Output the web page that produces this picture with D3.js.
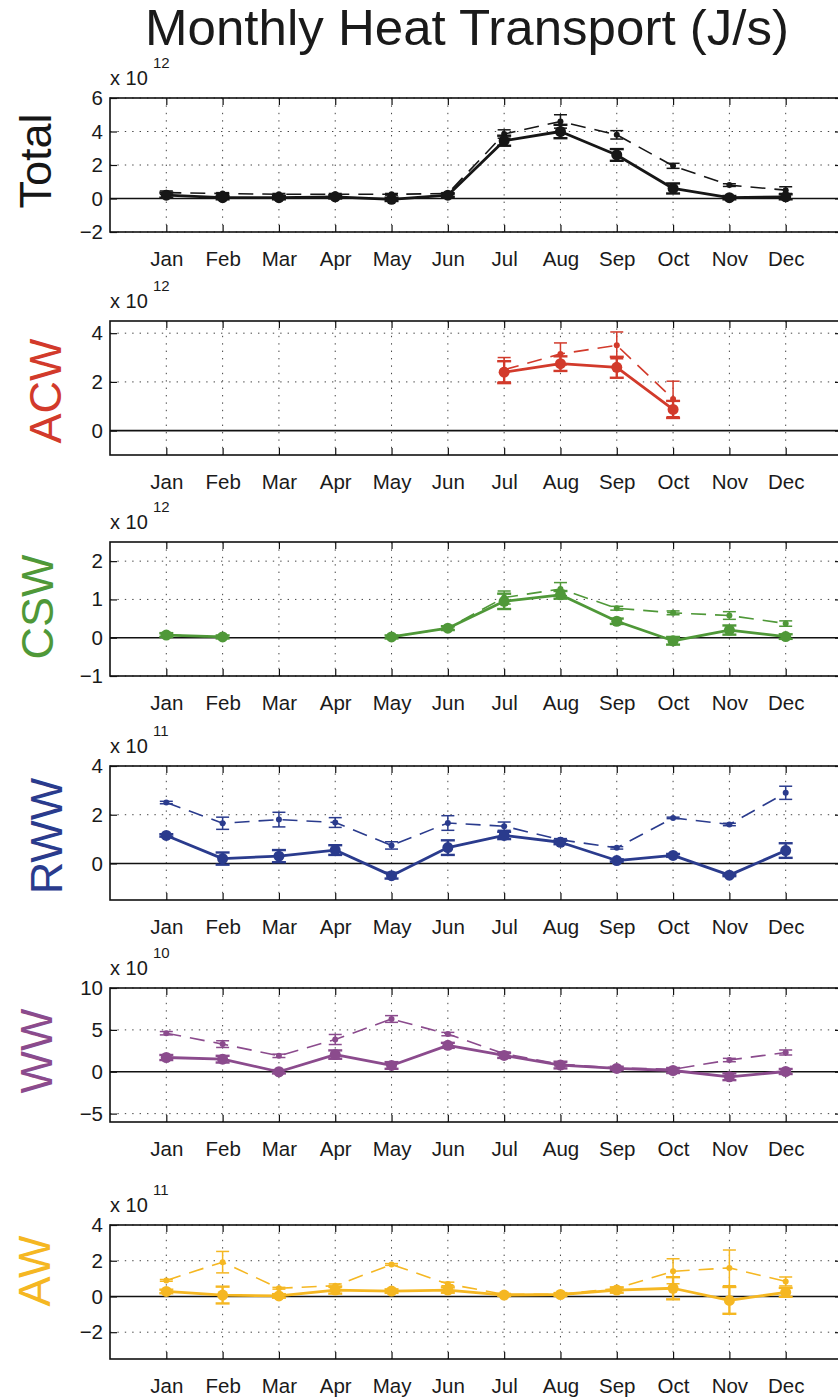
<!DOCTYPE html>
<html><head><meta charset="utf-8">
<script src="https://cdn.jsdelivr.net/npm/d3@7"></script>
<style>
body{margin:0;background:#fff}
svg{display:block}
text{font-family:"Liberation Sans",Arial,Helvetica,sans-serif}
</style>
</head><body>
<svg id="c" width="838" height="1398"></svg>
<script>
// ---------------- DATA ----------------
const months = ["Jan","Feb","Mar","Apr","May","Jun","Jul","Aug","Sep","Oct","Nov","Dec"];
const chartTitle = "Monthly Heat Transport (J/s)";
const panelNames = ["Total","ACW","CSW","RWW","WW","AW"];
const panelExponents = ["12","12","12","11","10","11"];
const panelYDomains = [[-2,6],[-1,4.5],[-1,2.5],[-1.5,4],[-6,10],[-3.5,4]];
const panelYTicks = [[-2,0,2,4,6],[0,2,4],[-1,0,1,2],[0,2,4],[-5,0,5,10],[-2,0,2,4]];

// Total (x 10^12)
const totalSolid     = [0.2,0.05,0.05,0.1,-0.05,0.2,3.45,4.0,2.6,0.6,0.05,0.1];
const totalSolidErr  = [0.15,0.1,0.1,0.1,0.1,0.1,0.3,0.4,0.35,0.3,0.1,0.15];
const totalDashed    = [0.35,0.3,0.25,0.25,0.25,0.3,3.85,4.6,3.8,1.95,0.8,0.5];
const totalDashedErr = [0.1,0.05,0.05,0.05,0.05,0.05,0.25,0.4,0.25,0.15,0.08,0.2];
// ACW (x 10^12)
const acwSolid     = [null,null,null,null,null,null,2.4,2.75,2.6,0.87,null,null];
const acwSolidErr  = [null,null,null,null,null,null,0.45,0.3,0.43,0.35,null,null];
const acwDashed    = [null,null,null,null,null,null,2.5,3.15,3.5,1.3,null,null];
const acwDashedErr = [null,null,null,null,null,null,0.5,0.45,0.55,0.73,null,null];
// CSW (x 10^12)
const cswSolid     = [0.07,0.02,null,null,0.02,0.25,0.95,1.12,0.43,-0.08,0.2,0.03];
const cswSolidErr  = [0.05,0.04,null,null,0.04,0.05,0.2,0.1,0.07,0.1,0.12,0.06];
const cswDashed    = [0.07,0.02,null,null,0.02,0.25,1.05,1.27,0.77,0.65,0.58,0.37];
const cswDashedErr = [0.03,0.03,null,null,0.03,0.03,0.17,0.17,0.05,0.05,0.1,0.07];
// RWW (x 10^11)
const rwwSolid     = [1.15,0.2,0.3,0.55,-0.5,0.65,1.15,0.87,0.12,0.33,-0.48,0.53];
const rwwSolidErr  = [0.05,0.25,0.25,0.2,0.12,0.3,0.15,0.08,0.05,0.06,0.04,0.3];
const rwwDashed    = [2.5,1.65,1.8,1.68,0.74,1.66,1.53,0.97,0.64,1.87,1.6,2.9];
const rwwDashedErr = [0.05,0.25,0.3,0.2,0.15,0.3,0.17,0.05,0.05,0.03,0.05,0.27];
// WW (x 10^10)
const wwSolid     = [1.7,1.5,0.0,2.05,0.75,3.15,1.95,0.8,0.4,0.15,-0.6,0.03];
const wwSolidErr  = [0.3,0.4,0.2,0.5,0.4,0.3,0.3,0.4,0.2,0.3,0.4,0.3];
const wwDashed    = [4.6,3.3,1.9,3.85,6.3,4.5,2.15,0.9,0.45,0.3,1.4,2.3];
const wwDashedErr = [0.2,0.4,0.2,0.6,0.4,0.2,0.2,0.2,0.1,0.1,0.2,0.3];
// AW (x 10^11)
const awSolid     = [0.28,0.08,0.03,0.36,0.3,0.36,0.08,0.11,0.36,0.46,-0.22,0.23];
const awSolidErr  = [0.1,0.47,0.1,0.2,0.1,0.15,0.05,0.08,0.15,0.62,0.75,0.25];
const awDashed    = [0.9,1.92,0.46,0.6,1.79,0.7,0.12,0.12,0.45,1.41,1.6,0.84];
const awDashedErr = [0.05,0.6,0.05,0.1,0.05,0.1,0.05,0.05,0.05,0.7,1.0,0.25];

// ---------------- LAYOUT / STYLE ----------------
const panelColors = ["#161616","#d23a2b","#4f9838","#2a3b8d","#8b4b8d","#f5b722"];
const panelTops = [98,321,542,766,988,1225];
const panelHeight = 134;
const labelPos = [[35,161],[45,391],[37,607],[46,836],[36,1051],[34,1271]];
const plotLeft = 110, plotRight = 842;

const seriesSolid = [totalSolid,acwSolid,cswSolid,rwwSolid,wwSolid,awSolid];
const seriesSolidErr = [totalSolidErr,acwSolidErr,cswSolidErr,rwwSolidErr,wwSolidErr,awSolidErr];
const seriesDashed = [totalDashed,acwDashed,cswDashed,rwwDashed,wwDashed,awDashed];
const seriesDashedErr = [totalDashedErr,acwDashedErr,cswDashedErr,rwwDashedErr,wwDashedErr,awDashedErr];

const svg = d3.select("#c");
const x = d3.scaleLinear().domain([0,13]).range([plotLeft,plotRight]);
const fmt = d => d < 0 ? "\u2212" + Math.abs(d) : String(d);

svg.append("text").attr("x",467).attr("y",45).attr("text-anchor","middle")
  .attr("font-size",50).attr("fill","#1a1a1a")
  .attr("textLength",644).attr("lengthAdjust","spacingAndGlyphs").text(chartTitle);

panelNames.forEach((name,i) => {
  const top = panelTops[i], bottom = top + panelHeight;
  const y = d3.scaleLinear().domain(panelYDomains[i]).range([bottom, top]);
  const color = panelColors[i];
  const g = svg.append("g");

  // grid
  g.append("g").selectAll("line").data(d3.range(1,13)).join("line")
    .attr("x1",d=>x(d)).attr("x2",d=>x(d)).attr("y1",top).attr("y2",bottom)
    .attr("stroke","#444").attr("stroke-width",1).attr("stroke-dasharray","1.4,6");
  g.append("g").selectAll("line").data(panelYTicks[i].filter(t=>t!==0)).join("line")
    .attr("x1",plotLeft).attr("x2",plotRight).attr("y1",d=>y(d)).attr("y2",d=>y(d))
    .attr("stroke","#444").attr("stroke-width",1).attr("stroke-dasharray","1.4,6");

  // zero line
  g.append("line").attr("x1",plotLeft).attr("x2",plotRight).attr("y1",y(0)).attr("y2",y(0))
    .attr("stroke","#111").attr("stroke-width",1.6);

  // axes (inward ticks)
  const ax = g.append("g").attr("transform",`translate(0,${bottom})`)
    .call(d3.axisBottom(x).tickValues(d3.range(1,13)).tickSize(-7).tickPadding(19)
      .tickFormat(d=>months[d-1]));
  const axTop = g.append("g").attr("transform",`translate(0,${top})`)
    .call(d3.axisTop(x).tickValues(d3.range(1,13)).tickSize(-7).tickFormat(""));
  const ay = g.append("g").attr("transform",`translate(${plotLeft},0)`)
    .call(d3.axisLeft(y).tickValues(panelYTicks[i]).tickSize(-7).tickPadding(7).tickFormat(fmt));
  const ayR = g.append("g").attr("transform",`translate(${plotRight},0)`)
    .call(d3.axisRight(y).tickValues(panelYTicks[i]).tickSize(-7).tickFormat(""));
  [ax,axTop,ay,ayR].forEach(a=>{
    a.select(".domain").remove();
    a.selectAll("line").attr("stroke","#111").attr("stroke-width",1.2);
    a.selectAll("text").attr("font-size",20.5).attr("fill","#1a1a1a")
      .attr("font-family","'Liberation Sans',Arial,sans-serif");
  });

  // exponent label
  const ex = g.append("g");
  ex.append("text").attr("x",plotLeft).attr("y",top-13).attr("font-size",20).attr("fill","#1a1a1a").text("x 10");
  ex.append("text").attr("x",plotLeft+43).attr("y",top-30).attr("font-size",15).attr("fill","#1a1a1a").text(panelExponents[i]);

  // y label
  svg.append("text").attr("transform",`translate(${labelPos[i][0]},${labelPos[i][1]}) rotate(-90)`)
    .attr("text-anchor","middle").attr("dy","0.36em").attr("font-size",45).attr("fill",color).text(name);

  // series
  const drawSeries = (vals, errs, solid) => {
    const pts = vals.map((v,k)=>({m:k+1, v, e:errs[k]}));
    const line = d3.line().defined(d=>d.v!==null).x(d=>x(d.m)).y(d=>y(d.v));
    const sw = solid ? 2.8 : 1.6;
    g.append("path").datum(pts).attr("d",line).attr("fill","none").attr("stroke",color)
      .attr("stroke-width",sw).attr("stroke-linejoin","round")
      .attr("stroke-dasharray", solid ? null : "15,9");
    const valid = pts.filter(d=>d.v!==null);
    const cw = solid ? 7 : 6.5;
    const eg = g.append("g").attr("stroke",color).attr("stroke-width",solid?2.4:1.5);
    eg.selectAll(".v").data(valid).join("line")
      .attr("x1",d=>x(d.m)).attr("x2",d=>x(d.m)).attr("y1",d=>y(d.v-d.e)).attr("y2",d=>y(d.v+d.e));
    eg.selectAll(".t").data(valid).join("line")
      .attr("x1",d=>x(d.m)-cw).attr("x2",d=>x(d.m)+cw).attr("y1",d=>y(d.v+d.e)).attr("y2",d=>y(d.v+d.e));
    eg.selectAll(".b").data(valid).join("line")
      .attr("x1",d=>x(d.m)-cw).attr("x2",d=>x(d.m)+cw).attr("y1",d=>y(d.v-d.e)).attr("y2",d=>y(d.v-d.e));
    g.append("g").selectAll("circle").data(valid).join("circle")
      .attr("cx",d=>x(d.m)).attr("cy",d=>y(d.v)).attr("r",solid?5.5:3).attr("fill",color);
  };
  drawSeries(seriesDashed[i], seriesDashedErr[i], false);
  drawSeries(seriesSolid[i], seriesSolidErr[i], true);

  // border
  g.append("rect").attr("x",plotLeft).attr("y",top).attr("width",plotRight-plotLeft).attr("height",panelHeight)
    .attr("fill","none").attr("stroke","#111").attr("stroke-width",1.6);
});
</script>
</body></html>
